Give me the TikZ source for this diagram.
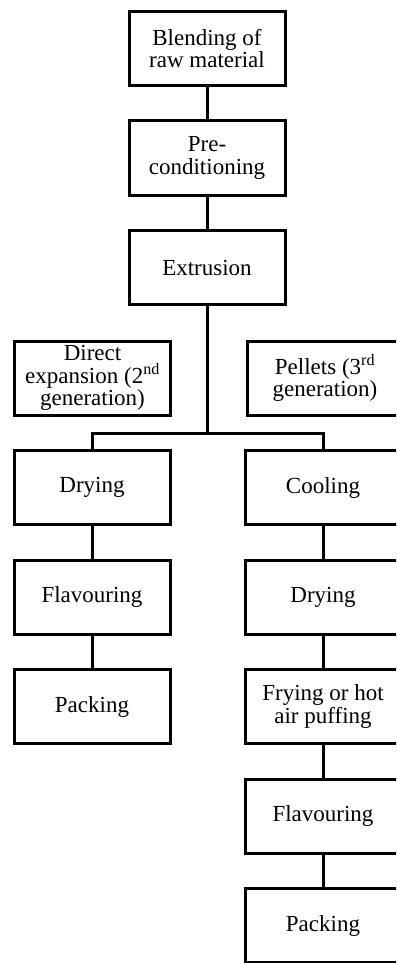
\documentclass[tikz,border=0pt]{standalone}
\usepackage{fontspec}
\setmainfont{Liberation Serif}
\usepackage{tikz}
\usetikzlibrary{positioning}
\tikzset{
    stage/.style={rectangle, draw=black, line width=3pt, fill=white,
                  minimum height=74pt, minimum width=156pt, inner sep=1pt,
                  align=center, text=black,
                  font=\fontsize{23}{22.5}\selectfont},
    conn/.style={line width=3pt},
}

\begin{document}
\begin{tikzpicture}[x=1pt, y=1pt, node distance=32.5pt]
    \useasboundingbox (0,0) rectangle (396,-963);
    \clip (0,0) rectangle (396,-963);

    % common trunk
    \node[stage] (blend) at (207,-48.5) {Blending of\\raw material};
    \node[stage, below=of blend]   (precond) {Pre-\\conditioning};
    \node[stage, below=of precond] (extr)    {Extrusion};

    % the two product types
    \node[stage] (direct)  at (92.5,-378) {Direct\\expansion (2\textsuperscript{nd}\\generation)};
    \node[stage] (pellets) at (325,-378)  {Pellets (3\textsuperscript{rd}\\generation)};

    % direct expansion line
    \node[stage] (ldry) at (92,-487.5) {Drying};
    \node[stage, below=of ldry]  (lflav) {Flavouring};
    \node[stage, below=of lflav] (lpack) {Packing};

    % pellet line
    \node[stage] (cool) at (323,-487.5) {Cooling};
    \node[stage, below=of cool]  (rdry)  {Drying};
    \node[stage, below=of rdry]  (fry)   {Frying or hot\\air puffing};
    \node[stage, below=of fry]   (rflav) {Flavouring};
    \node[stage, below=of rflav] (rpack) {Packing};

    \coordinate (split) at (207,-433);

    \draw[conn] (blend) -- (precond);
    \draw[conn] (precond) -- (extr);
    \draw[conn] (extr) -- (split);
    \draw[conn] (split) -| (ldry);
    \draw[conn] (split) -| (cool);
    \draw[conn] (ldry) -- (lflav);
    \draw[conn] (lflav) -- (lpack);
    \draw[conn] (cool) -- (rdry);
    \draw[conn] (rdry) -- (fry);
    \draw[conn] (fry) -- (rflav);
    \draw[conn] (rflav) -- (rpack);
\end{tikzpicture}
\end{document}
